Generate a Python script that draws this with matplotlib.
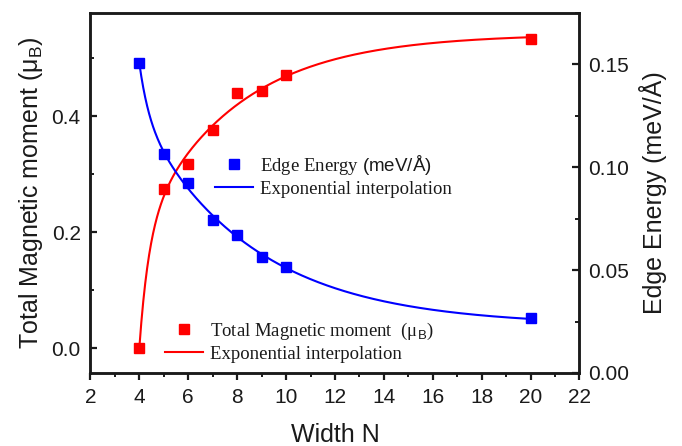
import numpy as np
import matplotlib
matplotlib.use("Agg")
import matplotlib.pyplot as plt
from matplotlib.lines import Line2D
from matplotlib.ticker import MultipleLocator

# ---- data ----
width_n = np.array([4, 5, 6, 7, 8, 9, 10, 20], dtype=float)
magnetic_moment = np.array([0.0, 0.274, 0.317, 0.376, 0.440, 0.4435, 0.4705, 0.533])
edge_energy = np.array([0.1506, 0.1064, 0.0925, 0.0743, 0.0670, 0.0565, 0.0516, 0.0265])

x_ticks = [2, 4, 6, 8, 10, 12, 14, 16, 18, 20, 22]
left_ticks = [0.0, 0.2, 0.4]
right_ticks = [0.00, 0.05, 0.10, 0.15]

plt.rcParams['mathtext.fontset'] = 'custom'
plt.rcParams['mathtext.rm'] = 'Liberation Serif'
plt.rcParams['mathtext.sf'] = 'Liberation Sans'
plt.rcParams['font.family'] = ['Liberation Sans', 'DejaVu Sans']


def fit_two_exp(x, y, t1_range, t2_range):
    """Least-squares fit of y0 + A1 exp(-(x-x0)/t1) + A2 exp(-(x-x0)/t2)."""
    x0 = x.min()
    best = None
    for t1 in np.logspace(*t1_range, 60):
        for t2 in np.logspace(*t2_range, 60):
            M = np.column_stack([np.ones_like(x), np.exp(-(x - x0) / t1), np.exp(-(x - x0) / t2)])
            c, *_ = np.linalg.lstsq(M, y, rcond=None)
            r = np.sum((M @ c - y) ** 2)
            if best is None or r < best[0]:
                best = (r, t1, t2, c)
    _, t1, t2, c = best

    def f(xx):
        return c[0] + c[1] * np.exp(-(xx - x0) / t1) + c[2] * np.exp(-(xx - x0) / t2)
    return f


fit_red = fit_two_exp(width_n, magnetic_moment, (-0.4, 0.2), (0.3, 1.2))
fit_blue = fit_two_exp(width_n, edge_energy, (-0.4, 0.2), (0.3, 1.2))
xs = np.linspace(width_n.min(), width_n.max(), 600)

fig = plt.figure(figsize=(6.82, 4.46), dpi=100)
ax = fig.add_axes([0.1326, 0.1637, 0.7171, 0.8072])
ax2 = ax.twinx()

red = '#ff0000'
blue = '#0000ff'
ax.plot(xs, fit_red(xs), color=red, lw=1.5, zorder=2)
ax.plot(width_n, magnetic_moment, 's', color=red, ms=6.5, zorder=3)
ax2.plot(xs, fit_blue(xs), color=blue, lw=1.5, zorder=2)
ax2.plot(width_n, edge_energy, 's', color=blue, ms=6.5, zorder=3)

ax.set_xlim(2, 22)
ax.set_ylim(-0.0425, 0.5775)
ax2.set_ylim(0, 0.175)

ax.set_xticks(x_ticks)
ax.xaxis.set_minor_locator(MultipleLocator(1))
ax.set_yticks(left_ticks)
ax.set_yticklabels([f"{v:.1f}" for v in left_ticks])
ax.yaxis.set_minor_locator(MultipleLocator(0.1))
ax2.set_yticks(right_ticks)
ax2.set_yticklabels([f"{v:.2f}" for v in right_ticks])
ax2.yaxis.set_minor_locator(MultipleLocator(0.025))

tc = '#1a1a1a'
for a in (ax, ax2):
    for s in a.spines.values():
        s.set_linewidth(1.8)
        s.set_color(tc)
ax.tick_params(axis='x', which='major', direction='out', length=5, width=1.6,
               labelsize=15, colors=tc, pad=6, top=False)
ax.tick_params(axis='x', which='minor', direction='out', length=3, width=1.4, colors=tc, top=False)
ax.tick_params(axis='y', which='major', direction='in', length=5, width=1.6,
               labelsize=15, colors=tc, pad=7, right=False)
ax.tick_params(axis='y', which='minor', direction='in', length=3, width=1.4, colors=tc, right=False)
ax2.tick_params(axis='y', which='major', direction='in', length=5, width=1.6,
                labelsize=15, colors=tc, pad=6.5)
ax2.tick_params(axis='y', which='minor', direction='in', length=3, width=1.4, colors=tc)

ax.set_xlabel('Width N', fontsize=18, color=tc, labelpad=11)
ax.set_ylabel(r'Total Magnetic moment ($\mathsf{\mu_{B}}$)', fontsize=18, color=tc, labelpad=5)
ax2.set_ylabel('Edge Energy (meV/Å)', fontsize=18, color=tc, labelpad=7)

legfont = {'family': ['Liberation Serif', 'DejaVu Serif'], 'size': 13.5}
h1 = [Line2D([], [], ls='none', marker='s', color=blue, ms=6.5),
      Line2D([], [], color=blue, lw=1.5)]
leg1 = ax.legend(h1, [r'Edge Energy $\mathsf{(meV/Å)}$', 'Exponential interpolation'],
                 loc='upper left', bbox_to_anchor=(0.2548, 0.612), frameon=False,
                 prop=legfont, borderpad=0, borderaxespad=0, handlelength=2.0,
                 handletextpad=0.4, labelspacing=0.22, labelcolor=tc)
ax.add_artist(leg1)
h2 = [Line2D([], [], ls='none', marker='s', color=red, ms=6.5),
      Line2D([], [], color=red, lw=1.5)]
leg2 = ax.legend(h2, [r'Total Magnetic moment  (μ$_\mathsf{B}$)', 'Exponential interpolation'],
                 loc='upper left', bbox_to_anchor=(0.1525, 0.146), frameon=False,
                 prop=legfont, borderpad=0, borderaxespad=0, handlelength=2.0,
                 handletextpad=0.4, labelspacing=0.22, labelcolor=tc)

fig.savefig('out.png', dpi=100)
